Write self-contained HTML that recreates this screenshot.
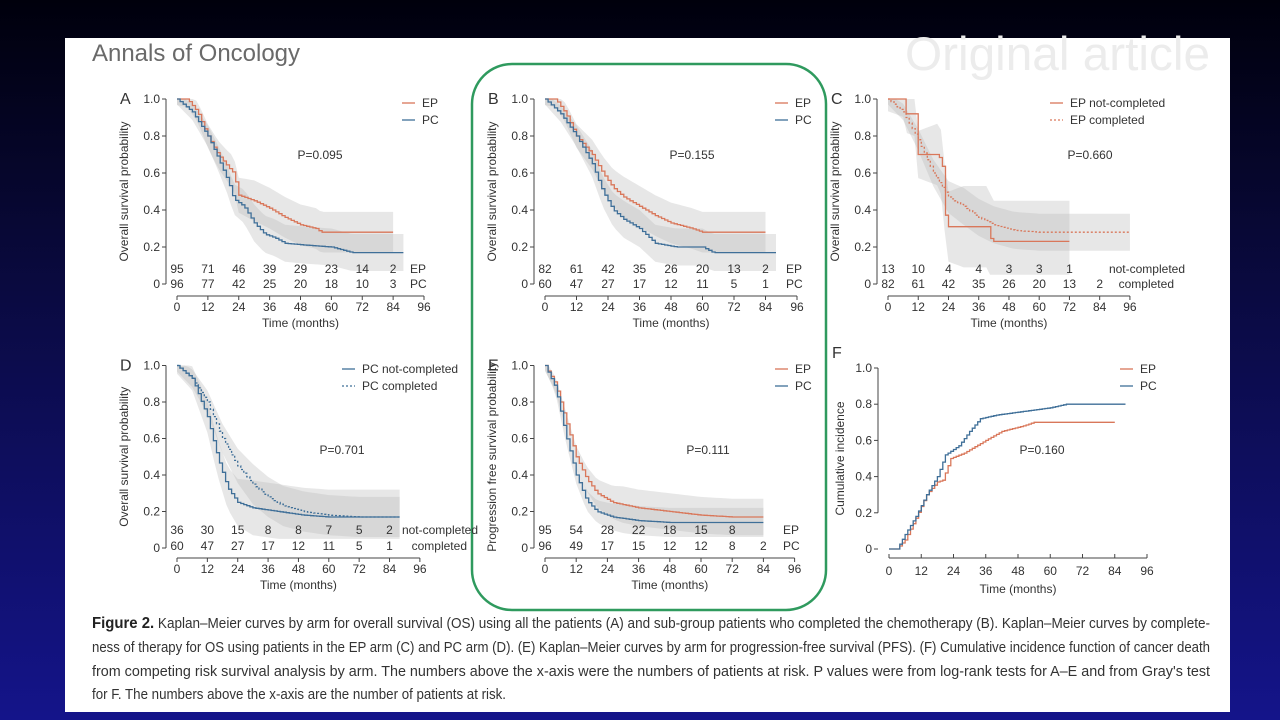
<!DOCTYPE html>
<html><head><meta charset="utf-8"><style>
html,body{margin:0;padding:0;width:1280px;height:720px;overflow:hidden;background:linear-gradient(#00000c,#0a0a40 40%,#14148a);}
svg{position:absolute;left:0;top:0}
text{font-family:"Liberation Sans",sans-serif;fill:#333}
</style></head><body>
<svg id="s" width="1280" height="720" viewBox="0 0 1280 720" xmlns="http://www.w3.org/2000/svg">
<rect x="65" y="38" width="1165" height="674" fill="#fff"/>
<text x="92" y="61" font-size="24" textLength="208" lengthAdjust="spacingAndGlyphs" style="fill:#6a6a6a">Annals of Oncology</text>
<text x="905" y="70" font-size="47" textLength="305" lengthAdjust="spacingAndGlyphs" style="fill:#ececec">Original article</text>
<rect x="472" y="64" width="354" height="546" rx="40" fill="none" stroke="#2f9a5e" stroke-width="2.5"/>
<g font-size="14.5" style="fill:#444">
<text x="92" y="628" textLength="1118" lengthAdjust="spacingAndGlyphs"><tspan font-weight="bold" font-size="16" style="fill:#222">Figure 2.</tspan> Kaplan–Meier curves by arm for overall survival (OS) using all the patients (A) and sub-group patients who completed the chemotherapy (B). Kaplan–Meier curves by complete-</text>
<text x="92" y="652" textLength="1118" lengthAdjust="spacingAndGlyphs">ness of therapy for OS using patients in the EP arm (C) and PC arm (D). (E) Kaplan–Meier curves by arm for progression-free survival (PFS). (F) Cumulative incidence function of cancer death</text>
<text x="92" y="676" textLength="1118" lengthAdjust="spacingAndGlyphs">from competing risk survival analysis by arm. The numbers above the x-axis were the numbers of patients at risk. P values were from log-rank tests for A–E and from Gray's test</text>
<text x="92" y="699" textLength="414" lengthAdjust="spacingAndGlyphs">for F. The numbers above the x-axis are the number of patients at risk.</text>
</g>
<g id="g"></g>
</svg>
<script>
var g=document.getElementById('g'),h="";
var OR="#d9775a",BL="#3f6f98";
function T(x,y,t,o){o=o||{};h+='<text x="'+x+'" y="'+y+'" font-size="'+(o.fs||12)+'" text-anchor="'+(o.a||'start')+'"'+(o.tr?' transform="'+o.tr+'"':'')+'>'+t+'</text>';}
function interp(k,t){for(var i=1;i<k.length;i++){if(t<=k[i][0]){var a=k[i-1],b=k[i];return a[1]+(b[1]-a[1])*(t-a[0])/((b[0]-a[0])||1);}}return k[k.length-1][1];}
function steps(k,st){var out=[],end=k[k.length-1][0];for(var t=0;t<=end;t+=st)out.push([t,interp(k,t)]);out.push([end,k[k.length-1][1]]);return out;}
function panel(P){
 var X=function(m){return P.x0+m*P.xs},Y=function(v){return P.y0-v*P.ys};
 P.series.forEach(function(s){if(!s.band)return;var st=steps(s.k,1.5),up="",dn="";
  st.forEach(function(p,i){var w=s.band*(0.3+0.7*Math.min(1,p[0]/30));up+=(i?"L":"M")+X(p[0])+" "+Y(Math.min(1,p[1]+w));});
  for(var i=st.length-1;i>=0;i--){var p=st[i],w=s.band*(0.3+0.7*Math.min(1,p[0]/30));dn+="L"+X(p[0])+" "+Y(Math.max(0.05,p[1]-w));}
  h+='<path d="'+up+dn+'Z" fill="#bbb" fill-opacity="0.35"/>';});
 P.series.forEach(function(s){var st=steps(s.k,1.2),d="";st.forEach(function(p,i){d+=i?("H"+X(p[0]).toFixed(1)+"V"+Y(p[1]).toFixed(1)):("M"+X(p[0])+" "+Y(p[1]));});
  h+='<path d="'+d+'" fill="none" stroke="'+s.c+'" stroke-width="1.3"'+(s.dash?' stroke-dasharray="2,2"':'')+'/>';});
 var ya=P.yax;h+='<path d="M'+ya+' '+Y(1)+'V'+Y(P.ymin)+'" stroke="#444" stroke-width="1"/>';
 [0.2,0.4,0.6,0.8,1.0].forEach(function(v){h+='<path d="M'+(ya-4)+' '+Y(v)+'H'+ya+'" stroke="#444"/>';T(ya-6,Y(v)+4,v.toFixed(1),{a:'end'});});
 h+='<path d="M'+(ya-4)+' '+P.y0+'H'+ya+'" stroke="#444"/>';T(ya-6,P.y0+4,"0",{a:'end'});
 var xa=P.xay;h+='<path d="M'+X(0)+' '+xa+'H'+X(96)+'" stroke="#444"/>';
 for(var m=0;m<=96;m+=12){h+='<path d="M'+X(m)+' '+xa+'V'+(xa+4)+'" stroke="#444"/>';T(X(m),xa+15,m,{a:'middle'});}
 T(X(48),xa+31,"Time (months)",{a:'middle'});
 T(0,0,P.ylab,{a:'middle',tr:'translate('+(P.yax-38)+','+(Y(0.5))+') rotate(-90)'});
 T(P.yax-46,Y(1)+5,P.L,{fs:16});
 if(P.risk)P.risk.forEach(function(r){r.v.forEach(function(v,i){T(X(i*12),r.y,v,{a:'middle'});});T(r.lx,r.y,r.l,{a:r.la||'start'});});
 P.leg.forEach(function(l,i){var y=P.ly+i*17;h+='<path d="M'+P.lx+' '+(y-4)+'h13" stroke="'+l.c+'" stroke-width="1.3"'+(l.dash?' stroke-dasharray="2,2"':'')+'/>';T(P.lx+20,y,l.t);});
 T(P.px,P.py,P.p,{a:'middle'});
}
var EPa=[[0,1],[4,1],[8,.93],[12,.8],[16,.7],[20,.63],[22,.6],[24,.48],[30,.45],[36,.41],[42,.36],[48,.32],[54,.3],[56,.28],[84,.28]];
var PCa=[[0,1],[6,.93],[12,.8],[16,.68],[20,.55],[22,.46],[26,.42],[30,.33],[34,.27],[38,.25],[42,.22],[50,.21],[60,.2],[68,.17],[88,.17]];
panel({L:"A",x0:177,xs:2.573,y0:284,ys:185,ymin:0,yax:166,xay:296,ylab:"Overall survival probability",
 series:[{k:EPa,c:OR,band:.11},{k:PCa,c:BL,band:.1}],
 risk:[{y:273,v:[95,71,46,39,29,23,14,2],l:"EP",lx:410},{y:288,v:[96,77,42,25,20,18,10,3],l:"PC",lx:410}],
 leg:[{c:OR,t:"EP"},{c:BL,t:"PC"}],lx:402,ly:107,p:"P=0.095",px:320,py:159});
panel({L:"B",x0:545,xs:2.625,y0:284,ys:185,ymin:0,yax:534,xay:296,ylab:"Overall survival probability",
 series:[{k:[[0,1],[4,1],[8,.92],[12,.8],[18,.7],[22,.6],[26,.52],[30,.47],[36,.42],[42,.37],[48,.33],[56,.3],[60,.28],[84,.28]],c:OR,band:.11},{k:[[0,1],[6,.92],[12,.8],[18,.65],[22,.5],[26,.4],[30,.35],[36,.3],[42,.22],[50,.2],[60,.2],[64,.17],[88,.17]],c:BL,band:.1}],
 risk:[{y:273,v:[82,61,42,35,26,20,13,2],l:"EP",lx:786},{y:288,v:[60,47,27,17,12,11,5,1],l:"PC",lx:786}],
 leg:[{c:OR,t:"EP"},{c:BL,t:"PC"}],lx:775,ly:107,p:"P=0.155",px:692,py:159});
panel({L:"C",x0:888,xs:2.52,y0:284,ys:185,ymin:0,yax:877,xay:296,ylab:"Overall survival probability",
 series:[{k:[[0,1],[6,1],[7,.92],[11,.92],[12,.7],[20,.7],[22,.62],[23,.31],[40,.31],[41,.23],[72,.23]],c:OR,band:.22},{k:[[0,1],[6,.93],[12,.78],[18,.6],[24,.47],[30,.42],[36,.36],[42,.32],[50,.29],[60,.28],[96,.28]],c:OR,dash:1,band:.1}],
 risk:[{y:273,v:[13,10,4,4,3,3,1,""],l:"not-completed",lx:1185,la:'end'},{y:288,v:[82,61,42,35,26,20,13,2],l:"completed",lx:1174,la:'end'}],
 leg:[{c:OR,t:"EP not-completed"},{c:OR,t:"EP completed",dash:1}],lx:1050,ly:107,p:"P=0.660",px:1090,py:159});
panel({L:"D",x0:177,xs:2.53,y0:548,ys:182.5,ymin:0,yax:166,xay:558,ylab:"Overall survival probability",
 series:[{k:[[0,1],[6,.93],[12,.72],[16,.5],[20,.33],[24,.25],[30,.22],[40,.2],[50,.18],[60,.17],[88,.17]],c:BL,band:.15},{k:[[0,1],[6,.93],[12,.8],[18,.6],[24,.45],[30,.35],[36,.28],[42,.23],[50,.2],[60,.18],[72,.17],[88,.17]],c:BL,dash:1,band:.11}],
 risk:[{y:534,v:[36,30,15,8,8,7,5,2],l:"not-completed",lx:478,la:'end'},{y:550,v:[60,47,27,17,12,11,5,1],l:"completed",lx:467,la:'end'}],
 leg:[{c:BL,t:"PC not-completed"},{c:BL,t:"PC completed",dash:1}],lx:342,ly:373,p:"P=0.701",px:342,py:454});
panel({L:"E",x0:545,xs:2.6,y0:548,ys:182.5,ymin:0,yax:534,xay:558,ylab:"Progression free survival probability",
 series:[{k:[[0,1],[4,.9],[8,.7],[12,.5],[16,.38],[20,.3],[26,.25],[36,.22],[48,.2],[60,.18],[72,.17],[84,.17]],c:OR,band:.1},{k:[[0,1],[4,.88],[8,.62],[12,.4],[16,.26],[20,.2],[26,.17],[36,.15],[48,.14],[84,.14]],c:BL,band:.08}],
 risk:[{y:534,v:[95,54,28,22,18,15,8,""],l:"EP",lx:783},{y:550,v:[96,49,17,15,12,12,8,2],l:"PC",lx:783}],
 leg:[{c:OR,t:"EP"},{c:BL,t:"PC"}],lx:775,ly:373,p:"P=0.111",px:708,py:454});
(function(){var x0=889,xs=2.6875,y0=549,ys=181,X=function(m){return x0+m*xs},Y=function(v){return y0-v*ys};
 function c(k,col){var st=steps(k,1),d="";st.forEach(function(p,i){d+=i?("H"+X(p[0]).toFixed(1)+"V"+Y(p[1]).toFixed(1)):("M"+X(p[0])+" "+Y(p[1]));});h+='<path d="'+d+'" fill="none" stroke="'+col+'" stroke-width="1.3"/>';}
 c([[0,0],[3,0],[6,.05],[10,.17],[14,.3],[18,.37],[20,.38],[23,.5],[28,.53],[36,.6],[42,.65],[50,.68],[54,.7],[84,.7]],OR);
 c([[0,0],[3,0],[6,.08],[10,.18],[14,.3],[18,.4],[21,.52],[26,.57],[30,.65],[34,.72],[40,.74],[50,.76],[60,.78],[66,.8],[88,.8]],BL);
 var ya=878;h+='<path d="M'+ya+' '+Y(1)+'V'+Y(0.2)+'M'+ya+' '+Y(0)+'h-4" stroke="#444"/>';
 [0.2,0.4,0.6,0.8,1.0].forEach(function(v){h+='<path d="M'+(ya-4)+' '+Y(v)+'H'+ya+'" stroke="#444"/>';T(ya-6,Y(v)+4,v.toFixed(1),{a:'end'});});
 T(ya-6,Y(0)+4,"0",{a:'end'});
 h+='<path d="M'+X(0)+' '+(y0+9)+'H'+X(96)+'" stroke="#444"/>';
 for(var m=0;m<=96;m+=12){h+='<path d="M'+X(m)+' '+(y0+9)+'v-4" stroke="#444"/>';T(X(m),y0+26,m,{a:'middle'});}
 T(X(48),y0+44,"Time (months)",{a:'middle'});
 T(0,0,"Cumulative incidence",{a:'middle',tr:'translate(844,'+Y(0.5)+') rotate(-90)'});
 T(832,Y(1)-10,"F",{fs:16});
 [[OR,"EP"],[BL,"PC"]].forEach(function(l,i){var y=373+i*17;h+='<path d="M1120 '+(y-4)+'h13" stroke="'+l[0]+'" stroke-width="1.3"/>';T(1140,y,l[1]);});
 T(1042,454,"P=0.160",{a:'middle'});
})();
g.innerHTML=h;
</script>
</body></html>
